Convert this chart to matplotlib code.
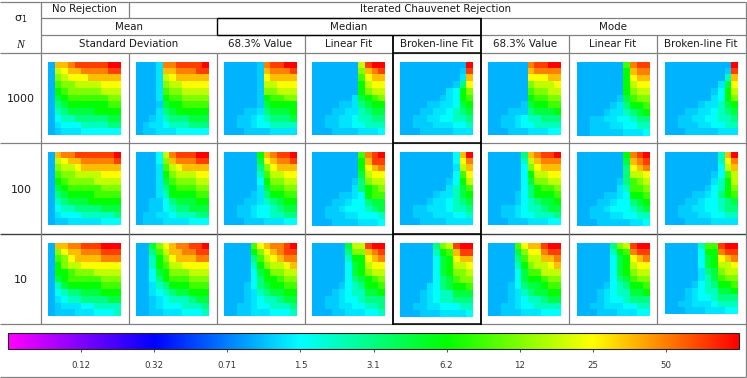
import numpy as np
import matplotlib
matplotlib.use('Agg')
import matplotlib.pyplot as plt
from matplotlib.cm import ScalarMappable
from matplotlib.colors import LinearSegmentedColormap, Normalize

# colour levels, position along the colour bar (0 magenta .. 5 red)
level_codes = 'abcdefghijklmnop'
level_values = [1.7, 1.8, 1.9, 2.0, 2.25, 2.5, 2.75, 3.0, 3.25, 3.5, 3.75, 4.0, 4.25, 4.5, 4.75, 5.0]

bar_ticks = [0.5, 1.0, 1.5, 2.0, 2.5, 3.0, 3.5, 4.0, 4.5]
bar_labels = ['0.12', '0.32', '0.71', '1.5', '3.1', '6.2', '12', '25', '50']
bar_colors = ['#ff00ff', '#0000ff', '#00ffff', '#00ff00', '#ffff00', '#ff0000']

n_labels = ['1000', '100', '10']
method_labels = ['68.3% Value', 'Linear Fit', 'Broken-line Fit']

# N = 1000
n1000_none = ['ammnooooopp', 'aklmmnnnnoo', 'ajklllmmmmm', 'aijjkkkklll', 'ahijjjjjkkk', 'aghiiiiiijj',
              'afghhhhhhii', 'aefgggghhhh', 'adeefffffgg', 'acdddeeeeff', 'abcccdddddd']
n1000_std = ['aaacnnoooop', 'aaacmmnnnoo', 'aaacklmmmmm', 'aaacjkkllll', 'aaacijjkkkk', 'aaachiijjjj',
             'aaabghhiiii', 'aaacfghhhhh', 'aabcefffggg', 'abccdeeefff', 'abbcccddddd']
n1000_med_val = ['aaaaabnoopp', 'aaaaabmnnno', 'aaaaablmmmm', 'aaaaabkklll', 'aaaaabjjkkk', 'aaaaabhiijj',
                 'aaaaabghhhh', 'aaabbcfgggh', 'aabbcdefffg', 'aabbcddeeee', 'aaabbbbcccc']
n1000_med_lin = ['aaaaaaakopp', 'aaaaaaajmno', 'aaaaaaailmm', 'aaaaaaahkll', 'aaaaaaahjkk', 'aaaaaacghij',
                 'aaaabbcfghh', 'aaabbccefgg', 'aabbccdeeff', 'aabbccddeee', 'aaabbbbcccd']
n1000_med_brk = ['aaaaaaaaaap', 'aaaaaaaaabo', 'aaaaaaaaacm', 'aaaaaaaabfl', 'aaaaaaacdhj', 'aaaaaabcdhi',
                 'aaaabbccdgh', 'aaabbccdefg', 'aabbccddeef', 'aabbbcccdde', 'aaabbbbbccc']
n1000_mod_val = ['aaaaaanoopp', 'aaaaaamnnnn', 'aaaaaalllmm', 'aaaaaajkkkl', 'aaaaaaijjkk', 'aaaaaahiijj',
                 'aaaaabghhii', 'aaabbbfgggh', 'aabbcdeefff', 'aabbcddeeee', 'aaabbbcccdd']
n1000_mod_lin = ['aaaaaaainoo', 'aaaaaaahmnn', 'aaaaaaahlmm', 'aaaaaaahkll', 'aaaaaaahjkk', 'aaaaaabgijj',
                 'aaaaabcfhhi', 'aaaabccefgh', 'aabbccddeff', 'aabbbccddee', 'aabbbbbcccd']
n1000_mod_brk = ['aaaaaaaaaap', 'aaaaaaaaabo', 'aaaaaaaaaem', 'aaaaaaaacgl', 'aaaaaaabdhk', 'aaaaaaacdhj',
                 'aaaaabccegh', 'aaabbccdefg', 'aabbccddeef', 'aabbbccddee', 'aaabbbbbccc']

# N = 100
n100_none = ['amnnoooooop', 'aklmmnnnnno', 'ajkklmmmmmm', 'aijjkkkklll', 'ahijjjjkkkk', 'aghiiiiijjj',
             'afghhhhiiii', 'aefggghhhhh', 'adeeffffggg', 'acdddeeeeef', 'abbcccccddd']
n100_std = ['aaadknooopp', 'aaadjmnnnoo', 'aaaciklmmmm', 'aaachjkkkll', 'aaacgijjjkk', 'aaacfhiiijj',
            'aaacehhhhii', 'aabbdfggghh', 'aabbdeffggg', 'abbccdeeeff', 'abbbccccddd']
n100_med_val = ['aaaaahmnoop', 'aaaaaglmnno', 'aaaaafjlmmm', 'aaaaaeikkll', 'aaaaadhjjkk', 'aaaaacgiijj',
                'aaaabcfhhii', 'aaabbcefghh', 'aabbcddefgg', 'aabbcddeeff', 'aaabbbcccdd']
n100_med_lin = ['aaaaaaainop', 'aaaaaaahmoo', 'aaaaaaahlmn', 'aaaaaaagkll', 'aaaaaabfjkk', 'aaaaaacfhij',
                'aaaabbcdhii', 'aaabbcddfgg', 'aabbcdddefg', 'aabbbccddde', 'aaabbbbcccd']
n100_med_brk = ['aaaaaaaadmp', 'aaaaaaaadln', 'aaaaaaaackm', 'aaaaaaaadil', 'aaaaaaabdhk', 'aaaaaaacegi',
                'aaaaabccegh', 'aaaabccdefg', 'aabbcccdeef', 'aabbbcccdde', 'aaabbbbcccc']
n100_mod_val = ['aaaaafmnoop', 'aaaaaekmnnn', 'aaaaadjlmmm', 'aaaaadhkkll', 'aaaaadgjjkk', 'aaaaadfhiij',
                'aaaabdfhhhi', 'aaaabdefggh', 'aabbcdeefgg', 'aabbcddeeef', 'aaabbbcccdd']
n100_mod_lin = ['aaaaaaahnop', 'aaaaaaagmno', 'aaaaaaaflmn', 'aaaaaaafkkl', 'aaaaaabfijk', 'aaaaaaceiij',
                'aaaabbcdhhi', 'aaabbcddfgh', 'aabbcdddefg', 'aabbbccddee', 'aaabbbbbccd']
n100_mod_brk = ['aaaaaaaaemp', 'aaaaaaaaeln', 'aaaaaaaadkm', 'aaaaaaabdik', 'aaaaaaacehk', 'aaaaaabdehj',
                'aaaabbcdfhi', 'aaabbcddefg', 'aabbccddeff', 'aabbbccddee', 'aaabbbbcccc']

# N = 10
n10_none = ['ammnnoooppp', 'ajlmmnnnooo', 'aijlmmmmnnn', 'ahjkkllllll', 'ahhijjjkkkk', 'aghiiiiijjj',
            'aeghhhhhiii', 'adeffggghhh', 'acdeeffffgg', 'abcccddeeee', 'abbbcccddde']
n10_std = ['aagjlmnnoop', 'aafikmmnnoo', 'aaehjlmmmnn', 'aaehikkllll', 'aadghjjjkkk', 'aadfhiiijjj',
           'aacefhhhiii', 'aacdefgghhh', 'aabcdeeefgg', 'aabcdddeeef', 'aabbcccddde']
n10_med_val = ['aaaailmnnop', 'aaaahjlmnoo', 'aaaafiklmnn', 'aaaaehjkklm', 'aaaadghjjkk', 'aaaadfhhijj',
               'aaabdfghhii', 'aaabcefgghh', 'aaabcdeefgg', 'aabbcddeeef', 'aabbcccddde']
n10_med_lin = ['aaaaagkkopp', 'aaaaafjjmno', 'aaaaaehhlmn', 'aaaaadghkll', 'aaaaadghjkk', 'aaaaadfghij',
               'aaaabdefhhi', 'aaabcdeeggh', 'aabbcddefff', 'aabbccddeef', 'aaabbcccdde']
n10_med_brk = ['aaaaafjkopp', 'aaaaaehimoo', 'aaaaadghlmm', 'aaaaadghkkl', 'aaaaadghjjk', 'aaaaadfgijj',
               'aaaacdfghhi', 'aaabcdeeggg', 'aaabcdeefff', 'aabbccdddee', 'aaabbbccccd']
n10_mod_val = ['aaaailmmopp', 'aaaagjllnoo', 'aaaafikkmmn', 'aaaaehjkklm', 'aaaadgiikkk', 'aaaadghhijj',
               'aaabdfgghii', 'aaabcefgghh', 'aaabcdeefgg', 'aabbcddeeee', 'aabbbcccddd']
n10_mod_lin = ['aaaaafjkopp', 'aaaaaehinoo', 'aaaaadghlmn', 'aaaaadghkll', 'aaaaadghjkk', 'aaaaadfgijj',
               'aaaabdefhhi', 'aaabcdeeggh', 'aaabcddefff', 'aabbcccddee', 'aaabbbcccdd']
n10_mod_brk = ['aaaaaeiiopp', 'aaaaadhhnoo', 'aaaaadghlmn', 'aaaaadghkkl', 'aaaaacfgjkk', 'aaaaacegijj',
               'aaaabdefhhi', 'aaabcdeeggh', 'aaabcddefff', 'aabbcccdeee', 'aaabbbcccdd']

panels = [
    [n1000_none, n1000_std, n1000_med_val, n1000_med_lin, n1000_med_brk, n1000_mod_val, n1000_mod_lin, n1000_mod_brk],
    [n100_none, n100_std, n100_med_val, n100_med_lin, n100_med_brk, n100_mod_val, n100_mod_lin, n100_mod_brk],
    [n10_none, n10_std, n10_med_val, n10_med_lin, n10_med_brk, n10_mod_val, n10_mod_lin, n10_mod_brk],
]

W, H = 747, 378
GRAY = '#808080'
FS = 7.4

# pixel layout of the table
col_lines = [40.5, 128.5, 216.5, 304.5, 392.5, 481, 568.5, 656.5, 745.5]
panel_left = [48.3, 136.3, 224.3, 312.3, 400.3, 488.3, 577, 665]
panel_top = [61.5, 152, 242.7]
panel_bottom = [
    [135, 135, 135, 135, 135, 135, 136, 135],
    [225.3, 225.3, 225.3, 226.5, 225.3, 225.3, 226.5, 225.3],
    [316, 316, 316, 316, 317.3, 316, 316, 314.3],
]
panel_w = 73


def decode(rows):
    return np.array([[level_values[level_codes.index(c)] for c in r] for r in rows])


fig = plt.figure(figsize=(W / 100, H / 100), dpi=100, facecolor='white')
bg = fig.add_axes([0, 0, 1, 1])
bg.set_xlim(0, W)
bg.set_ylim(H, 0)
bg.axis('off')

cmap = LinearSegmentedColormap.from_list('bar', bar_colors, N=512)
norm = Normalize(0, 5)


def hl(y, x0, x1, color=GRAY, lw=0.9):
    bg.plot([x0, x1], [y, y], color=color, lw=lw, solid_capstyle='butt')


def vl(x, y0, y1, color=GRAY, lw=0.9):
    bg.plot([x, x], [y0, y1], color=color, lw=lw, solid_capstyle='butt')


# grey grid
hl(2, 0, 746)
hl(18.2, 40.5, 746)
hl(35.2, 40.5, 746)
hl(52.5, 0, 746)
hl(143.3, 0, 746)
hl(234, 0, 746, color='#404040', lw=1.0)
hl(324.3, 0, 746)
hl(376.5, 0, 746)
vl(745.5, 2, 376.5)
vl(col_lines[0], 2, 324)
vl(col_lines[1], 2, 18)
vl(col_lines[1], 52.5, 324)
vl(col_lines[2], 52.5, 324)
for x in [col_lines[3], col_lines[6], col_lines[7]]:
    vl(x, 35, 324)

# black boxes round the median columns
hl(18.2, col_lines[2], col_lines[5], color='black', lw=1.0)
hl(35.2, col_lines[2], col_lines[5], color='black', lw=1.0)
vl(col_lines[2], 18.2, 35.2, color='black', lw=1.0)
vl(col_lines[5], 18.2, 324.5, color='black', lw=1.3)
vl(393, 35.2, 324.5, color='black', lw=1.3)
for y in [52.5, 143.3, 234, 324.3]:
    hl(y, 393, col_lines[5], color='black', lw=1.1)

# header text
txt = dict(ha='center', va='center', fontsize=FS, color='#1a1a1a')
bg.text(84.5, 9.5, 'No Rejection', **txt)
bg.text(436, 9.5, 'Iterated Chauvenet Rejection', **txt)
bg.text(128.5, 27, 'Mean', **txt)
bg.text(348.5, 27, 'Median', **txt)
bg.text(613, 27, 'Mode', **txt)
bg.text(128.5, 44, 'Standard Deviation', **txt)
for i in range(6):
    bg.text((col_lines[i + 2] + col_lines[i + 3]) / 2, 44, method_labels[i % 3], **txt)
bg.text(20.5, 19, r'$\mathrm{\sigma_1}$', ha='center', va='center', fontsize=8, color='#1a1a1a')
bg.text(20.5, 44.5, 'N', ha='center', va='center', fontsize=8.5, style='italic',
        family='Liberation Serif', color='#1a1a1a')
for lab, y in zip(n_labels, [99, 190, 280]):
    bg.text(21, y, lab, ha='center', va='center', fontsize=8, color='#1a1a1a')

# heat maps
for r, row in enumerate(panels):
    for c, rows in enumerate(row):
        left = panel_left[c]
        top = panel_top[r]
        bottom = panel_bottom[r][c]
        ax = fig.add_axes([left / W, 1 - bottom / H, panel_w / W, (bottom - top) / H])
        ax.imshow(decode(rows), cmap=cmap, norm=norm, aspect='auto', interpolation='nearest')
        ax.axis('off')

# colour bar
cax = fig.add_axes([8 / W, 1 - 349.3 / H, 731 / W, 16.3 / H])
cb = fig.colorbar(ScalarMappable(norm=norm, cmap=cmap), cax=cax, orientation='horizontal')
cb.set_ticks(bar_ticks)
cb.set_ticklabels(bar_labels)
cb.ax.tick_params(length=2, width=0.6, pad=6.5, labelsize=6.2, labelcolor='#333333', color='#333333')
cb.outline.set_linewidth(0.8)
cb.outline.set_edgecolor('#222222')

fig.savefig('out.png', dpi=100)
